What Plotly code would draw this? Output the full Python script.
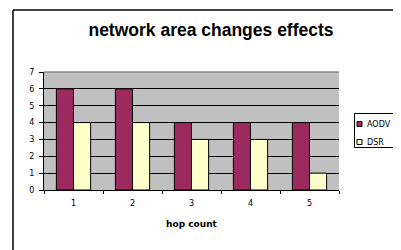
import plotly.graph_objects as go

categories = ["1", "2", "3", "4", "5"]
aodv = [6, 6, 4, 4, 4]
dsr = [4, 4, 3, 3, 1]
y_ticks = [0, 1, 2, 3, 4, 5, 6]
series_names = ["AODV", "DSR"]
series_colors = ["#9b2b5e", "#ffffcc"]

# The page body adds an 8px margin, so the figure is 8px smaller each way.
W, H = 393, 242
L, T = 36, 64
PW, PH = 295, 118

fig = go.Figure()
for name, vals, col in zip(series_names, [aodv, dsr], series_colors):
    fig.add_trace(go.Bar(x=categories, y=vals, name=name, showlegend=False,
                         marker=dict(color=col, line=dict(color="black", width=1))))

fig.update_layout(
    width=W, height=H,
    margin=dict(l=L, r=W - L - PW, t=T, b=H - T - PH, autoexpand=False),
    paper_bgcolor="white",
    plot_bgcolor="#c0c0c0",
    barmode="group",
    bargap=0.42, bargroupgap=0.0,
    font=dict(family="Liberation Sans, Arial, sans-serif", size=8, color="black"),
    title=dict(text="<b>network area changes effects</b>", x=(211 - 8) / W, xanchor="center",
               y=1 - (30 - 8) / H, yanchor="middle",
               font=dict(size=17.5, family="Liberation Sans, Arial, sans-serif", color="black")),
)
fig.update_xaxes(
    showline=True, linecolor="black", linewidth=1,
    ticks="outside", tickson="boundaries", ticklen=3, tickcolor="black",
    ticklabelstandoff=5,
    tickfont=dict(size=8, family="DejaVu Sans, sans-serif"),
    title=dict(text="<b>hop count</b>", font=dict(size=9, family="DejaVu Sans, sans-serif"), standoff=14),
    showgrid=False,
)
fig.update_yaxes(
    range=[0, 7], tickvals=y_ticks + [7], showline=True, linecolor="black", linewidth=1,
    ticks="outside", ticklen=4, tickcolor="black", ticklabelstandoff=3,
    tickfont=dict(size=8, family="DejaVu Sans, sans-serif"),
    showgrid=True, gridcolor="black", gridwidth=1, zeroline=False,
)

def px(xw):
    return (xw - 44) / PW

def py(yw):
    return (190 - yw) / PH

# lighter top edge of the plot area (the 7 line)
fig.add_shape(type="line", xref="paper", yref="paper", x0=0, x1=1, y0=1, y1=1,
              line=dict(color="#8a8a8a", width=1.5))

# outer chart border (left and top edges visible, the rest clipped)
fig.add_shape(type="line", xref="paper", yref="paper",
              x0=px(13), x1=px(13), y0=py(260), y1=py(10),
              line=dict(color="black", width=1.5))
fig.add_shape(type="line", xref="paper", yref="paper",
              x0=px(13), x1=px(420), y0=py(10), y1=py(10),
              line=dict(color="black", width=1.5))

# legend box, kept inside the figure
fig.add_shape(type="rect", xref="paper", yref="paper", layer="below",
              x0=px(354.5), x1=px(399.5), y0=py(147.5), y1=py(113.5),
              line=dict(color="black", width=1), fillcolor="white")
for i, (name, col) in enumerate(zip(series_names, series_colors)):
    yc = 124 + 18 * i
    fig.add_shape(type="rect", xref="paper", yref="paper",
                  x0=px(357), x1=px(362), y0=py(yc + 2.5), y1=py(yc - 2.5),
                  line=dict(color="black", width=1), fillcolor=col)
    fig.add_annotation(xref="paper", yref="paper", x=px(365), y=py(yc),
                       xanchor="left", yanchor="middle", showarrow=False,
                       text=name, font=dict(size=8, family="DejaVu Sans, sans-serif"))

fig.write_html("out.html")
